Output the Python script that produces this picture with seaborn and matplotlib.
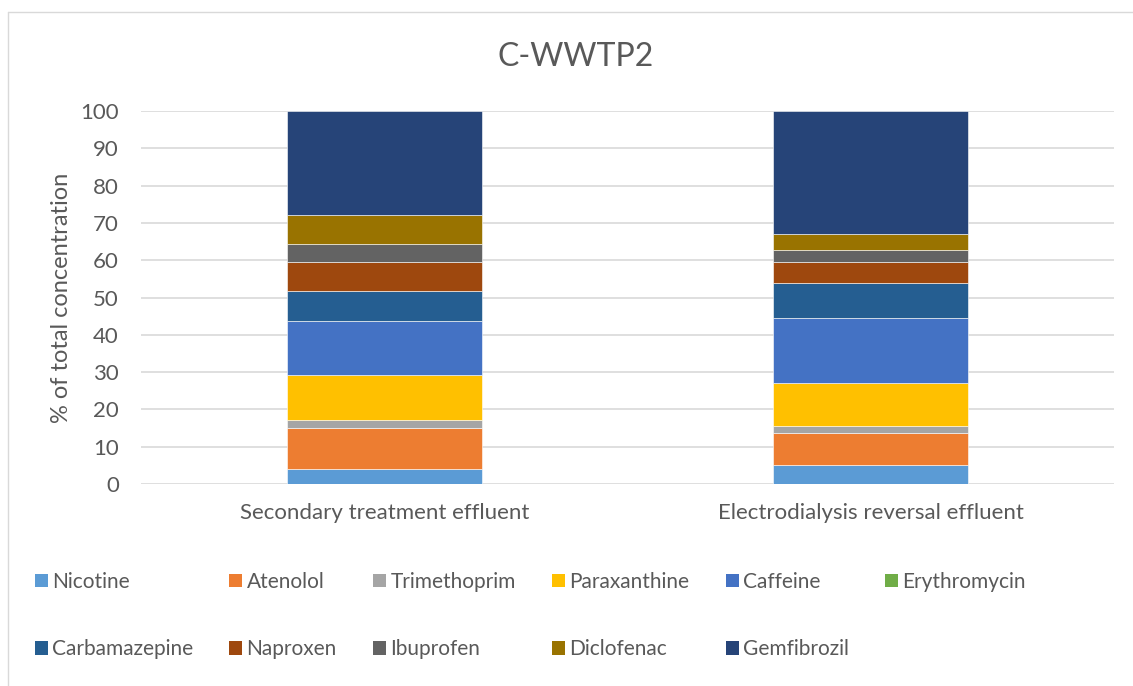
import numpy as np
import pandas as pd
import matplotlib.pyplot as plt
import seaborn as sns
from matplotlib.patches import Patch
from matplotlib.lines import Line2D

# Data (% of total concentration)
samples = ["Secondary treatment effluent", "Electrodialysis reversal effluent"]
compounds = ["Nicotine", "Atenolol", "Trimethoprim", "Paraxanthine", "Caffeine",
             "Erythromycin", "Carbamazepine", "Naproxen", "Ibuprofen", "Diclofenac",
             "Gemfibrozil"]
secondary = [3.9, 11.1, 2.1, 12.0, 14.6, 0.0, 8.0, 7.7, 4.9, 7.8, 27.9]
edr = [5.0, 8.6, 2.0, 11.6, 17.4, 0.0, 9.2, 5.6, 3.3, 4.3, 33.0]
colors = ["#5B9BD5", "#ED7D31", "#A5A5A5", "#FFC000", "#4472C4", "#70AD47",
          "#255E91", "#9E480E", "#636363", "#997300", "#264478"]

df = pd.DataFrame({"compound": compounds,
                   samples[0]: secondary,
                   samples[1]: edr}).set_index("compound")

sns.set_style("white")
plt.rcParams["font.family"] = ["Lato", "DejaVu Sans"]
text_col = "#595959"

fig = plt.figure(figsize=(11.33, 6.86), dpi=100)
ax = fig.add_axes([141 / 1133, 1 - 484 / 686, 973 / 1133, 373 / 686])

# Stacked bars
bottom = np.zeros(len(samples))
for comp, col in zip(compounds, colors):
    vals = df.loc[comp, samples].values.astype(float)
    sns.barplot(x=samples, y=vals, bottom=bottom, color=col, saturation=1,
                width=0.4, edgecolor="#ffffff", linewidth=0.4, ax=ax)
    bottom = bottom + vals

ax.set_ylim(0, 100)
ax.set_xlim(-0.5, 1.5)
ax.set_yticks(range(0, 101, 10))
ax.yaxis.grid(True, color="#D9D9D9", linewidth=1.2)
ax.set_axisbelow(True)
for s in ax.spines.values():
    s.set_visible(False)
ax.tick_params(axis="y", length=0, pad=16, labelsize=16, labelcolor=text_col)
ax.tick_params(axis="x", length=0, pad=14, labelsize=16, labelcolor=text_col)
ax.set_ylabel("% of total concentration", fontsize=17, color=text_col, labelpad=6)
ax.set_xlabel("")

fig.text(576 / 1133, 1 - 57 / 686, "C-WWTP2", ha="center", va="center",
         fontsize=23, color=text_col)

# Legend: reorder so rows read across like the original
order = [0, 6, 1, 7, 2, 8, 3, 9, 4, 10, 5]
handles = [Patch(facecolor=colors[i], edgecolor="none") for i in order]
labels = [compounds[i] for i in order]
fig.legend(handles, labels, ncol=6, loc="upper left",
           bbox_to_anchor=(16 / 1133, 1 - 553 / 686), frameon=False,
           fontsize=15, labelcolor=text_col, handlelength=0.62, handleheight=0.62,
           handletextpad=0.2, columnspacing=1.75, labelspacing=2.28)

# chart border
fig.add_artist(Line2D([8 / 1133, 1], [1 - 12 / 686] * 2, color="#D9D9D9", lw=1))
fig.add_artist(Line2D([8 / 1133] * 2, [0, 1 - 12 / 686], color="#D9D9D9", lw=1))

fig.savefig("out.png", dpi=100)
